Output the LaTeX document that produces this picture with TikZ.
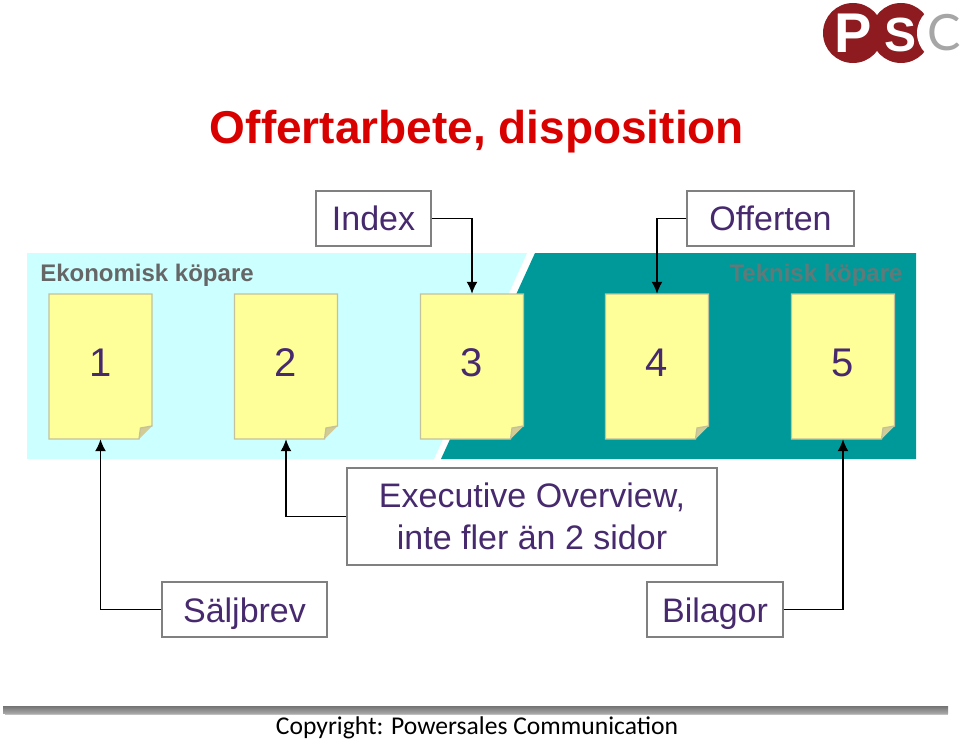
\documentclass[tikz,border=0pt]{standalone}
\usepackage{fontspec}
\setmainfont{Liberation Sans}
\newfontfamily\footfont{Carlito}
\newfontfamily\logofont{Lato}
\usetikzlibrary{arrows.meta}
\definecolor{labelpurple}{HTML}{472A6E}
\definecolor{lightcyan}{HTML}{CCFFFF}
\definecolor{darkteal}{HTML}{009999}
\definecolor{greyteal}{HTML}{607A7A}
\definecolor{pageyellow}{HTML}{FFFF99}
\definecolor{pageedge}{HTML}{C4C29A}
\definecolor{pagefold}{HTML}{D2CB96}
\definecolor{logored}{HTML}{8E1B20}
\tikzset{x=1pt,y=-1pt,
    labelbox/.style={draw=black!50,line width=1.3pt,fill=white,text=labelpurple,
        inner sep=0pt,font=\fontsize{34}{42}\selectfont,align=center},
    oneline/.style={labelbox,minimum height=55pt,text height=25pt,text depth=0pt},
    pagebox/.style={inner sep=0pt,minimum width=103pt,minimum height=145pt,
        text height=29pt,text depth=10pt,text=labelpurple,font=\fontsize{40}{48}\selectfont},
    sidelabel/.style={inner sep=0pt,font=\fontsize{24}{28}\selectfont\bfseries},
    linkarrow/.style={-{Latex[length=12pt,width=11pt]},line width=1.6pt},
    }
\begin{document}
\begin{tikzpicture}
	\useasboundingbox (0,0) rectangle (960,743);
	% logo
	\fill[logored] (853,33) circle (30) (901,33) circle (30);
	\fill[white] (945,33) circle (28);
	\node[inner sep=0pt,text=white,font=\fontsize{56}{56}\selectfont\bfseries] (logoP) at (853,33) {P};
	\node[inner sep=0pt,text=white,font=\fontsize{48}{48}\selectfont\bfseries] (logoS) at (900,35) {S};
	\node[inner sep=0pt,text=black!35,font=\fontsize{50}{50}\selectfont\logofont] (logoC) at (944,33) {C};
	% title
	\node[inner sep=0pt,text=red!85!black,font=\fontsize{46}{54}\selectfont\bfseries] (title) at (477,132) {Offertarbete, disposition};
	% background
	\fill[lightcyan] (27,253) -- (527,253) -- (434,459) -- (27,459) -- cycle;
	\fill[darkteal] (535,253) -- (916,253) -- (916,459) -- (441,459) -- cycle;
	\node[sidelabel,text=black!60] (buyerA) at (147,275) {Ekonomisk köpare};
	\node[sidelabel,text=greyteal] (buyerB) at (816,275) {Teknisk köpare};
	% pages
	\foreach \n/\x in {1/100.5,2/286,3/472,4/657,5/843}{
		\fill[pagefold] (\x+51.5,426) -- (\x+38.5,439) -- (\x+40,428) -- cycle;
		\draw[pageedge,line width=1.3pt,fill=pageyellow] (\x-51.5,294) -- (\x+51.5,294) -- (\x+51.5,426)
			-- (\x+40,428) -- (\x+38.5,439) -- (\x-51.5,439) -- cycle;
		\node[pagebox] (page\n) at (\x,366.5) {\n};
	}
	% labels
	\node[oneline,minimum width=115pt] (index) at (373.5,218.5) {Index};
	\node[oneline,minimum width=167pt] (offer) at (770.5,218.5) {Offerten};
	\node[labelbox,minimum width=370pt,minimum height=97pt] (exec) at (532,516.5) {Executive Overview,\\inte fler än 2 sidor};
	\node[oneline,minimum width=165pt] (letter) at (244.5,609.5) {Säljbrev};
	\node[oneline,minimum width=136pt] (annex) at (715,609.5) {Bilagor};
	% arrows
	\draw[linkarrow] (index.east) -| (page3.north);
	\draw[linkarrow] (offer.west) -| (page4.north);
	\draw[linkarrow] (exec.west) -| (page2.south);
	\draw[linkarrow] (letter.west) -| (page1.south);
	\draw[linkarrow] (annex.east) -| (page5.south);
	% footer
	\fill[black!25] (5,709) rectangle (948,715);
	\shade[top color=black!55,bottom color=black!35] (3,706) rectangle (948,713);
	\node[inner sep=0pt,font=\fontsize{25.6}{30}\selectfont\footfont] (copy) at (477,728) {Copyright: Powersales Communication};
\end{tikzpicture}
\end{document}
